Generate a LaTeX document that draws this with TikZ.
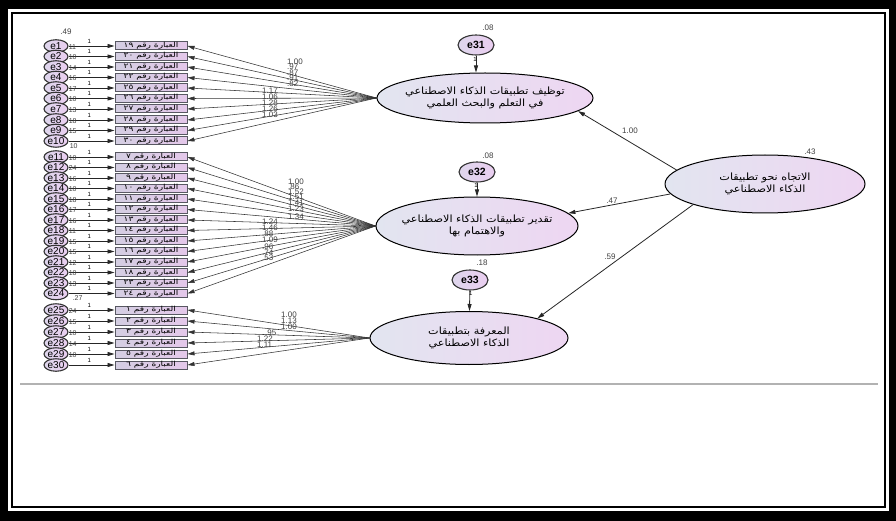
\documentclass[tikz,border=0pt]{standalone}
\usepackage{fontspec}
\setmainfont{Liberation Sans}
\newfontfamily\arabicfont[Script=Arabic,FakeStretch=1.12]{DejaVu Sans}
\newfontfamily\arabicitem[Script=Arabic,FakeStretch=1.3]{DejaVu Sans}
\TeXXeTstate=1
\usetikzlibrary{arrows.meta,shapes.geometric}

\definecolor{latA}{RGB}{226,229,240}
\definecolor{latB}{RGB}{238,214,242}
\definecolor{errA}{RGB}{222,214,236}
\definecolor{errB}{RGB}{234,206,240}
\definecolor{obsA}{RGB}{212,206,226}
\definecolor{obsB}{RGB}{228,200,234}
\definecolor{obsline}{RGB}{88,88,98}

\begin{document}
\begin{tikzpicture}[
  x=1pt, y=-1pt,
  >={Triangle[length=7pt,width=4pt]},
  latent/.style={ellipse, draw=black, line width=1pt, left color=latA, right color=latB,
                 inner sep=0pt},
  lattext/.style={align=center, font=\arabicfont\fontsize{10}{12.5}\selectfont, inner sep=0pt},
  err/.style={ellipse, draw=black!80, line width=1.1pt, left color=errA, right color=errB,
              inner sep=0pt, inner xsep=-4pt, text depth=0pt,
              minimum width=24pt, minimum height=12.5pt, font=\fontsize{10}{10}\selectfont},
  dis/.style={err, minimum width=36pt, minimum height=20pt, font=\fontsize{10.5}{11}\selectfont\bfseries},
  obs/.style={rectangle, draw=obsline, line width=1pt, left color=obsA, right color=obsB,
              inner sep=0pt, minimum width=72pt, minimum height=8pt,
              text height=4pt, text depth=1pt, font=\arabicitem\fontsize{7}{7}\selectfont},
  path/.style={->, line width=0.8pt, draw=black!85},
  load/.style={->, line width=0.55pt, draw=black!80},
  num/.style={font=\fontsize{8}{8}\selectfont, text=black!75, inner sep=0pt},
  one/.style={font=\fontsize{6}{6}\selectfont, inner sep=0pt, above=2.5pt, pos=0.45},
]
\useasboundingbox (0,0) rectangle (896,521);

\def\ex{56}  \def\bx{151}

% frame
\fill[black] (0,0) rectangle (896,521);
\fill[white] (8,9) rectangle (889,511);
\draw[line width=1.6pt] (12,13) rectangle (885,507);
\draw[black!30, line width=1.2pt] (20,384) -- (878,384);

% latent variables
\node[latent, minimum width=216pt, minimum height=50pt] (F1) at (485,98) {};
\node[lattext] (F1t) at (F1) {\beginR توظيف تطبيقات الذكاء الاصطناعي\endR\\\beginR في التعلم والبحث العلمي\endR};
\node[latent, minimum width=202pt, minimum height=58pt] (F2) at (477,226) {};
\node[lattext] (F2t) at (F2) {\beginR تقدير تطبيقات الذكاء الاصطناعي\endR\\\beginR والاهتمام بها\endR};
\node[latent, minimum width=198pt, minimum height=53pt] (F3) at (469,338) {};
\node[lattext] (F3t) at (F3) {\beginR المعرفة بتطبيقات\endR\\\beginR الذكاء الاصطناعي\endR};
\node[latent, minimum width=200pt, minimum height=58pt] (F0) at (765,184) {};
\node[lattext] (F0t) at (F0) {\beginR الاتجاه نحو تطبيقات\endR\\\beginR الذكاء الاصطناعي\endR};
\node[num] (vF0) at (810,152) {.43};

% disturbances
\node[dis] (e31) at (476,45) {e31};
\node[dis] (e32) at (477,172) {e32};
\node[dis] (e33) at (470,280) {e33};
\draw[path] (e31) -- node[one, left=1pt, above=0pt, pos=0.55] (o31) {1} (e31 |- F1.north);
\draw[path] (e32) -- node[one, left=1pt, above=0pt, pos=0.55] (o32) {1} (F2);
\draw[path] (e33) -- node[one, right=1pt, above=0pt, pos=0.4] (o33) {1} (F3);
\node[num] (v31) at (488,28) {.08};
\node[num] (v32) at (488,156) {.08};
\node[num] (v33) at (482,263) {.18};

% structural paths
\draw[path] (F0.171) -- (F1.-8);
\draw[path] (F0.186) -- (F2.8);
\draw[path] (F0.-164) -- (F3.16);
\node[num] (p1) at (630,131) {1.00};
\node[num] (p2) at (612,201) {.47};
\node[num] (p3) at (610,257) {.59};

% items and error terms
\foreach \i/\y/\n/\f in {1/46/١٩/F1, 2/56.5/٢٠/F1, 3/67/٢١/F1, 4/77.5/٢٢/F1, 5/88/٢٥/F1,
    6/98.5/٢٦/F1, 7/109/٢٧/F1, 8/120/٢٨/F1, 9/130.5/٢٩/F1, 10/141/٣٠/F1,
    11/157/٧/F2, 12/167.5/٨/F2, 13/178/٩/F2, 14/188.5/١٠/F2, 15/199/١١/F2,
    16/209.5/١٢/F2, 17/220/١٣/F2, 18/230.5/١٤/F2, 19/241/١٥/F2, 20/251.5/١٦/F2,
    21/262/١٧/F2, 22/272.5/١٨/F2, 23/283/٢٣/F2, 24/293.5/٢٤/F2,
    25/310/١/F3, 26/321/٢/F3, 27/332/٣/F3, 28/343/٤/F3, 29/354/٥/F3, 30/365/٦/F3}{
  \node[err] (e\i) at (\ex,\y) {e\i};
  \node[obs] (x\i) at (\bx,\y) {\beginR العبارة رقم \n\endR};
  \draw[path] (e\i) -- node[one] (o\i) {1} (x\i);
  \draw[load] (\f.west) -- (x\i.east);
}

% error variances
\node[num] (v0) at (66,32) {.49};
\foreach \i/\v in {1/11, 2/10, 3/14, 4/16, 5/17, 6/10, 7/13, 8/18, 9/15,
    11/10, 12/24, 13/16, 14/10, 15/18, 16/17, 17/16, 18/11, 19/15, 20/15,
    21/12, 22/10, 23/13, 25/24, 26/15, 27/10, 28/14, 29/10}{
  \node[num, anchor=west, font=\fontsize{7}{7}\selectfont] (v\i) at ([yshift=-1pt]e\i.east) {\v};
}
\node[num, anchor=west, font=\fontsize{7}{7}\selectfont] (v10) at ([xshift=1pt,yshift=-5pt]e10.east) {10};
\node[num, anchor=west, font=\fontsize{7}{7}\selectfont] (v24) at ([xshift=4pt,yshift=-5pt]e24.east) {.27};

% loadings
\foreach \i/\x/\y/\v in {1/287/62/1.00, 2/287/67/.97, 3/287/72.5/.87, 4/287/78/.91, 5/287/84/.82,
    6/262/91/1.17, 7/262/97/1.06, 8/262/103/1.28, 9/262/109/1.26, 10/262/115/1.03,
    11/288/182/1.00, 12/288/187/.86, 13/288/192/1.52, 14/288/197/1.51, 15/288/202.5/1.41,
    16/288/208.5/1.23, 17/288/216.5/1.34, 18/262/222/1.24, 19/262/228/1.46, 20/262/233.5/.88,
    21/262/240/1.09, 22/262/246.5/.96, 23/262/252.5/.74, 24/262/258/.53,
    25/281/315/1.00, 26/281/321/1.13, 27/281/327/1.00, 28/265/333/.95, 29/257/339/1.22,
    30/257/345/1.11}{
  \node[num, anchor=west] (b\i) at (\x,\y) {\v};
}
\end{tikzpicture}
\end{document}
